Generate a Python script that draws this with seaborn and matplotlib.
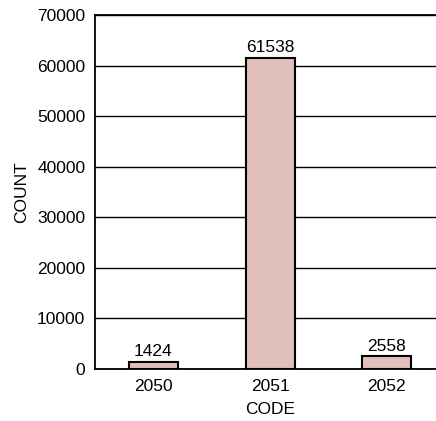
import matplotlib
matplotlib.use("Agg")
import matplotlib.pyplot as plt
import seaborn as sns
import pandas as pd

# значения
codes = ["2050", "2051", "2052"]
counts = [1424, 61538, 2558]
y_ticks = [0, 10000, 20000, 30000, 40000, 50000, 60000, 70000]

df = pd.DataFrame({"CODE": codes, "COUNT": counts})

sns.set_style("white")
plt.rcParams["font.family"] = ["Liberation Sans", "DejaVu Sans"]
plt.rcParams["text.color"] = "black"
plt.rcParams["axes.labelcolor"] = "black"
plt.rcParams["xtick.color"] = "black"
plt.rcParams["ytick.color"] = "black"

fs = 12.5
fig = plt.figure(figsize=(4.36, 4.21), dpi=100)
ax = fig.add_axes([95 / 436, 52 / 421, 350 / 436, 354 / 421])

sns.barplot(data=df, x="CODE", y="COUNT", color="#e2c0ba", saturation=1,
            width=0.42, edgecolor="black", linewidth=1.5, ax=ax, zorder=3)

ax.set_ylim(0, 70000)
ax.set_yticks(y_ticks)
ax.set_xlim(-0.5, 2.5)
ax.grid(axis="y", color="black", linewidth=1, zorder=0)
ax.tick_params(axis="both", labelsize=fs, length=0, pad=7)
for s in ax.spines.values():
    s.set_color("black")
    s.set_linewidth(1.3)

for i, v in enumerate(counts):
    ax.text(i, v + 500, str(v), ha="center", va="bottom", fontsize=fs, zorder=4)

ax.set_xlabel("CODE", fontsize=fs, labelpad=6)
ax.set_ylabel("COUNT", fontsize=fs, labelpad=6)
# заголовок в оригинале почти полностью обрезан верхним краем
ax.set_title("Histogram of Diagnosis Codes, Sample Group", fontsize=14,
             fontweight="bold", pad=16)

fig.savefig("out.png", dpi=100)
